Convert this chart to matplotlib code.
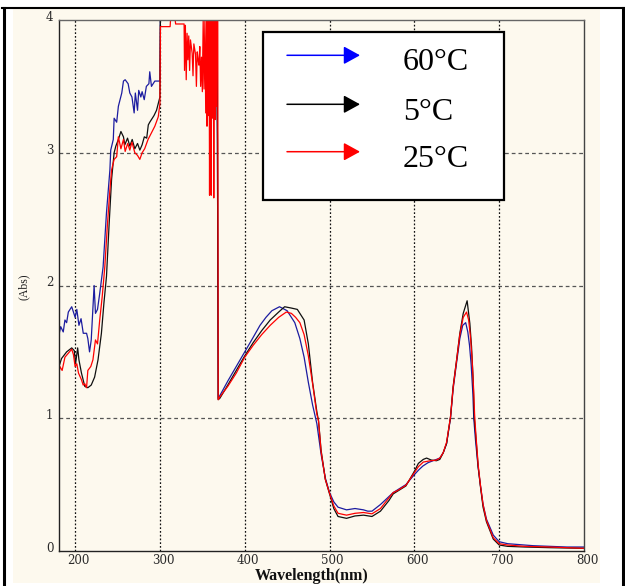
import matplotlib
matplotlib.use("Agg")
import matplotlib.pyplot as plt
from matplotlib.patches import Rectangle, FancyArrowPatch
from matplotlib.lines import Line2D
from matplotlib.transforms import ScaledTranslation

# ---- spectra: wavelength (nm) and absorbance (Abs) ----
wl_60 = [181, 183, 186, 188, 190, 192, 196, 198, 200, 202, 204.5, 207, 209.6, 213.5, 215, 217, 219,
         222.4, 224, 226.4, 229, 233, 237, 241, 242, 245, 246, 249, 251, 253, 255, 257, 259, 262.5,
         264.5, 267, 269.6, 271, 273.6, 275, 277.5, 279, 281.5, 284, 287, 288, 290, 294, 298, 300,
         300.5, 367, 367.8, 368.7,
         370.6, 380, 390, 400, 410, 418, 425, 432, 441, 450, 459, 465, 470, 475, 480, 485, 490, 495,
         500, 505, 510, 520, 530, 540, 545, 550, 560, 570, 575, 580, 590, 600, 605, 610, 616, 622,
         626, 630, 634, 638, 642.6, 645.7, 649.8, 653.6, 657, 660.5, 663, 665, 667, 669, 670, 672,
         675, 678, 681, 685, 693, 700, 710, 720, 740, 760, 780, 800]
abs_60 = [1.63, 1.69, 1.65, 1.74, 1.72, 1.80, 1.84, 1.80, 1.76, 1.82, 1.70, 1.75, 1.64, 1.64, 1.60,
          1.50, 1.59, 2.00, 1.79, 1.82, 1.94, 2.14, 2.55, 2.87, 3.02, 3.10, 3.26, 3.23, 3.35, 3.40,
          3.45, 3.54, 3.55, 3.52, 3.45, 3.42, 3.30, 3.45, 3.32, 3.47, 3.42, 3.46, 3.40, 3.50, 3.52,
          3.61, 3.50, 3.54, 3.54, 3.54,
          4.00, 4.00, 3.09, 1.15,
          1.17, 1.28, 1.39, 1.50, 1.61, 1.70, 1.76, 1.81, 1.84, 1.81, 1.72, 1.60, 1.46, 1.27, 1.10,
          0.96, 0.73, 0.55, 0.44, 0.37, 0.33, 0.31, 0.32, 0.31, 0.30, 0.30, 0.35, 0.41, 0.44, 0.46,
          0.50, 0.575, 0.61, 0.64, 0.665, 0.68, 0.69, 0.70, 0.74, 0.81, 1.00, 1.22, 1.42, 1.60,
          1.70, 1.72, 1.65, 1.55, 1.40, 1.18, 1.00, 0.84, 0.64, 0.49, 0.35, 0.24, 0.12, 0.07,
          0.055, 0.05, 0.04, 0.035, 0.03, 0.03]

wl_5 = [181, 184, 190, 196, 199, 200.5, 203, 204.5, 207.5, 211.4, 215, 219, 223, 227, 231, 234, 237,
        240, 243, 246, 248, 251, 254, 257, 258.6, 261.8, 264.5, 267.3, 270.4, 273.6, 276.3, 279,
        281.6, 284.4, 286.3, 288, 291, 293, 296, 300,
        300.5, 367, 367.8, 368.7,
        370.6, 380, 390, 400, 410, 420, 430, 440, 447, 455, 462, 470, 475, 480, 485, 487, 490, 495,
        500, 505, 510, 520, 530, 540, 550, 560, 570, 575, 580, 590, 600, 604.7, 610.5, 614.4, 620,
        626, 630, 634, 638, 642.6, 645.7, 649.8, 653.6, 657.6, 662.2, 665.4, 667.4, 669.3, 670.5,
        672.5, 675.2, 678, 681, 685, 693, 700, 710, 730, 760, 800]
abs_5 = [1.39, 1.45, 1.50, 1.53, 1.51, 1.41, 1.53, 1.44, 1.34, 1.24, 1.23, 1.25, 1.31, 1.44, 1.64,
         1.87, 2.07, 2.45, 2.80, 3.00, 3.05, 3.10, 3.16, 3.12, 3.06, 3.11, 3.05, 3.10, 3.03, 3.07,
         3.02, 3.06, 3.12, 3.11, 3.21, 3.23, 3.26, 3.28, 3.32, 3.42,
         4.00, 4.00, 3.09, 1.14,
         1.15, 1.25, 1.36, 1.47, 1.57, 1.66, 1.74, 1.80, 1.84, 1.83, 1.82, 1.74, 1.56, 1.27, 1.05,
         0.98, 0.76, 0.54, 0.43, 0.32, 0.26, 0.246, 0.264, 0.27, 0.26, 0.30, 0.38, 0.43, 0.45, 0.49,
         0.60, 0.66, 0.69, 0.70, 0.685, 0.68, 0.69, 0.74, 0.81, 1.01, 1.24, 1.44, 1.64, 1.79,
         1.885, 1.715, 1.54, 1.29, 1.01, 0.86, 0.635, 0.48, 0.33, 0.22, 0.09, 0.045, 0.035, 0.03,
         0.025, 0.02]

wl_25 = [181, 182, 184.7, 188, 192, 196, 198, 200, 202, 204, 207.5, 209.5, 211.4, 213.5, 215, 218.5,
         221, 224, 226.4, 229, 232, 235, 238, 241, 243, 246, 249, 251, 254, 257, 259, 262, 264.5,
         267, 270.4, 273.6, 276.3, 279, 282, 286, 290, 294, 298, 300,
         300.6, 312, 312.5, 318, 318.5, 328.5,
         329, 330, 331, 332, 333, 334, 335, 336, 337, 338, 339, 340, 341, 342, 343, 344, 345, 346,
         347, 348, 349, 350, 351, 352, 353, 354, 355, 355.5, 356, 356.5, 357, 357.5, 358, 358.5,
         359, 359.5, 360, 360.5, 361, 361.5, 362, 362.5, 363, 363.5, 364, 364.5, 365, 365.5, 366,
         366.5, 367, 368.2, 368.7,
         370.6, 380, 390, 400, 410, 420, 430, 440, 449, 455, 460, 465, 470, 475, 480, 485, 487, 490,
         495, 500, 505, 510, 520, 530, 540, 550, 560, 570, 575, 580, 590, 600, 604.7, 610.5, 619,
         626, 630, 634, 638, 642.6, 645.7, 649.8, 653.6, 657.6, 661.5, 664, 666, 668, 670, 671,
         672.5, 675.2, 678, 681, 685, 693, 700, 710, 730, 760, 800]
abs_25 = [1.33, 1.39, 1.36, 1.46, 1.49, 1.52, 1.48, 1.39, 1.41, 1.34, 1.29, 1.25, 1.26, 1.23, 1.36,
          1.39, 1.44, 1.59, 1.56, 1.74, 1.92, 2.14, 2.45, 2.72, 2.87, 2.95, 2.97, 3.12, 3.03, 3.10,
          3.01, 3.07, 3.02, 3.08, 3.00, 2.98, 2.95, 3.00, 3.03, 3.10, 3.15, 3.20, 3.27, 3.37,
          3.95, 3.95, 4.00, 4.00, 3.97, 3.97,
          3.62, 3.96, 3.55, 3.90, 3.70, 3.88, 3.62, 3.85, 3.80, 3.75, 3.58, 3.82, 3.78, 3.74, 3.50,
          3.76, 3.70, 3.66, 3.80, 3.50, 3.72, 3.46, 4.00, 3.48, 4.00, 3.30, 4.00, 3.20, 4.00, 3.50,
          4.00, 3.28, 4.00, 2.68, 4.00, 3.26, 4.00, 2.68, 4.00, 3.26, 4.00, 3.30, 4.00, 2.66, 4.00,
          3.40, 4.00, 3.25, 4.00, 3.35, 4.00, 4.00, 1.14,
          1.16, 1.24, 1.34, 1.46, 1.55, 1.63, 1.70, 1.76, 1.80, 1.79, 1.76, 1.72, 1.63, 1.47, 1.26,
          1.03, 0.98, 0.75, 0.54, 0.435, 0.34, 0.284, 0.27, 0.284, 0.29, 0.28, 0.32, 0.40, 0.44,
          0.455, 0.495, 0.59, 0.635, 0.67, 0.68, 0.685, 0.70, 0.74, 0.82, 1.01, 1.23, 1.44, 1.63,
          1.76, 1.80, 1.74, 1.62, 1.45, 1.20, 1.03, 0.88, 0.65, 0.49, 0.35, 0.23, 0.10, 0.055,
          0.045, 0.035, 0.03, 0.02]

legend_labels = ["60°C", "5°C", "25°C"]
x_ticks = [200, 300, 400, 500, 600, 700, 800]
y_ticks = [0, 1, 2, 3, 4]

cream = "#fdf9ee"
W, H = 625, 586

fig = plt.figure(figsize=(W / 100, H / 100), dpi=100, facecolor="white")


def fx(x):
    return x / W


def fy(y):
    return 1 - y / H


# panel background and outer frame
fig.add_artist(Rectangle((fx(13), fy(583)), fx(600) - fx(13), fy(9.3) - fy(583),
                         transform=fig.transFigure, facecolor=cream, edgecolor="none", zorder=-5))
for xs, ys, lw in [((3.5, 3.5), (7.5, 590), 2.2), ((622.5, 622.5), (7.5, 590), 2.2),
                   ((2, 624), (7.5, 7.5), 1.5)]:
    fig.add_artist(Line2D([fx(v) for v in xs], [fy(v) for v in ys], transform=fig.transFigure,
                          color="black", lw=lw, zorder=5))

ax = fig.add_axes([fx(59), fy(551), fx(584) - fx(59), fy(20) - fy(551)])
ax.set_facecolor(cream)

ax.plot(wl_60, abs_60, color="#1c1ca0", lw=0.9, zorder=2)
ax.plot(wl_5, abs_5, color="#101010", lw=0.9, zorder=2.1)
ax.plot(wl_25, abs_25, color="#ff0000", lw=0.9, zorder=2.2)

ax.set_xlim(181, 800)
ax.set_ylim(0, 4)

# grid: dotted verticals, dashed horizontals
for xv in x_ticks[:-1]:
    ax.axvline(xv, color="#111111", lw=0.9, ls=(0, (1.4, 1.6)), zorder=1)
for yv in y_ticks[1:-1]:
    ax.axhline(yv, color="#555555", lw=0.9, ls=(0, (3.0, 2.4)), zorder=1)

ax.set_xticks(x_ticks)
ax.set_yticks(y_ticks)
ax.set_xticklabels([str(v) for v in x_ticks])
ax.set_yticklabels([str(v) for v in y_ticks])
ax.tick_params(length=0, labelsize=8.5, colors="#2a2a2a", pad=4)
ax.tick_params(axis="x", pad=2.5)
for lab in ax.get_xticklabels() + ax.get_yticklabels():
    lab.set_fontfamily("DejaVu Serif")
for lab in ax.get_xticklabels():
    lab.set_transform(lab.get_transform() + ScaledTranslation(3 / 100, 0, fig.dpi_scale_trans))
for lab in ax.get_yticklabels():
    lab.set_transform(lab.get_transform() + ScaledTranslation(0, 4 / 100, fig.dpi_scale_trans))

for side, col in [("left", "#222222"), ("bottom", "#222222"), ("top", "#666666"), ("right", "#444444")]:
    ax.spines[side].set_color(col)
    ax.spines[side].set_linewidth(1.0)

fig.text(fx(312), fy(580.5), "Wavelength(nm)", ha="center", va="baseline",
         fontsize=11.5, fontweight="bold", family="Liberation Serif", color="#111111")
fig.text(fx(24), fy(287), "(Abs)", ha="center", va="center", rotation=90,
         fontsize=8.5, family="Liberation Serif", color="#222222")

# legend box with arrows
fig.add_artist(Rectangle((fx(263), fy(200)), fx(504) - fx(263), fy(32) - fy(200),
                         transform=fig.transFigure, facecolor="white", edgecolor="black",
                         lw=1.6, zorder=6))
arrow_colors = ["#0000ff", "#000000", "#ff0000"]
arrow_y = [55.3, 104.3, 151.7]
text_base = [70, 120, 166.5]
for lab, col, ay, tb in zip(legend_labels, arrow_colors, arrow_y, text_base):
    fig.add_artist(FancyArrowPatch((fx(287), fy(ay)), (fx(360), fy(ay)),
                                   transform=fig.transFigure,
                                   arrowstyle="-|>,head_length=1.0,head_width=0.55",
                                   mutation_scale=10, color=col, lw=1.1,
                                   shrinkA=0, shrinkB=0, zorder=7))
    fig.text(fx(403), fy(tb), lab, ha="left", va="baseline", fontsize=23,
             family="Liberation Serif", color="black", zorder=7)

fig.savefig("out.png", dpi=100)
